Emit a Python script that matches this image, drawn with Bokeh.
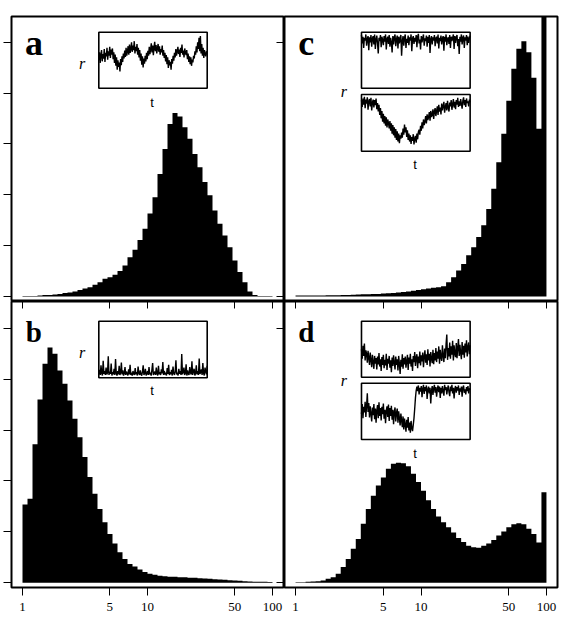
import numpy as np
from bokeh.plotting import figure
from bokeh.layouts import gridplot
from bokeh.models import (Range1d, LogScale, LinearScale, LinearAxis, LogAxis,
                          FixedTicker, Label, BasicTickFormatter)
from bokeh.embed import file_html
from bokeh.resources import INLINE

# ---------------- data ----------------
bin_edges = np.logspace(0, 2, 51)          # 50 logarithmic bins from 1 to 100
x_ticks = [1, 5, 10, 50, 100]
y_ticks_left = [0, 1, 2, 3, 4, 5]
y_ticks_right = [0, 5]

hist_a = [0.01, 0.01, 0.01, 0.02, 0.03, 0.03, 0.04, 0.05, 0.07, 0.08,
          0.10, 0.13, 0.16, 0.18, 0.23, 0.28, 0.35, 0.38, 0.43, 0.50,
          0.61, 0.77, 0.92, 1.11, 1.33, 1.63, 1.95, 2.41, 2.90, 3.39,
          3.61, 3.54, 3.33, 3.10, 2.80, 2.54, 2.25, 1.99, 1.69, 1.43,
          1.20, 0.97, 0.71, 0.48, 0.28, 0.10, 0.03, 0.01, 0.01, 0.01]
hist_b = [1.54, 1.65, 2.72, 3.60, 4.30, 4.62, 4.50, 4.17, 3.91, 3.58,
          3.22, 2.86, 2.47, 2.08, 1.75, 1.45, 1.19, 0.96, 0.77, 0.60,
          0.47, 0.37, 0.32, 0.26, 0.21, 0.18, 0.16, 0.14, 0.13, 0.12,
          0.12, 0.11, 0.11, 0.10, 0.10, 0.09, 0.085, 0.08, 0.07, 0.065,
          0.06, 0.05, 0.045, 0.04, 0.033, 0.026, 0.02, 0.02, 0.02, 0.015]
hist_c = [0.02, 0.02, 0.02, 0.02, 0.02, 0.02, 0.025, 0.025, 0.026, 0.028,
          0.03, 0.035, 0.04, 0.043, 0.046, 0.048, 0.05, 0.057, 0.065, 0.07,
          0.08, 0.09, 0.10, 0.115, 0.13, 0.145, 0.16, 0.17, 0.18, 0.20,
          0.28, 0.38, 0.51, 0.64, 0.81, 0.97, 1.17, 1.40, 1.72, 2.12,
          2.64, 3.20, 3.85, 4.48, 4.87, 5.02, 4.80, 4.30, 3.30, 7.50]
hist_d = [0.013, 0.013, 0.02, 0.026, 0.03, 0.046, 0.08, 0.11, 0.18, 0.31,
          0.47, 0.67, 0.86, 1.16, 1.45, 1.71, 1.91, 2.07, 2.24, 2.34,
          2.36, 2.35, 2.29, 2.14, 1.98, 1.81, 1.62, 1.45, 1.30, 1.19,
          1.09, 0.99, 0.88, 0.80, 0.73, 0.70, 0.69, 0.73, 0.77, 0.84,
          0.93, 1.01, 1.09, 1.15, 1.17, 1.15, 1.06, 0.96, 0.79, 1.78]

# inset time series r(t), in units of the inset height
r_a = [0.50, 0.64, 0.45, 0.59, 0.68, 0.48, 0.61, 0.53, 0.70, 0.47, 0.63, 0.57, 0.72, 0.51, 0.66, 0.58,
       0.74, 0.54, 0.69, 0.60,
       0.71, 0.52, 0.64, 0.45, 0.60, 0.40, 0.55, 0.33, 0.50, 0.38, 0.46, 0.30, 0.52, 0.41, 0.57,
       0.47, 0.62, 0.53, 0.67, 0.56, 0.72, 0.58, 0.66, 0.75, 0.60, 0.78, 0.63, 0.70, 0.82, 0.65,
       0.76, 0.68, 0.84, 0.62, 0.74,
       0.66, 0.79, 0.60, 0.72, 0.55, 0.68, 0.49, 0.62, 0.42, 0.57, 0.37, 0.53, 0.44, 0.58, 0.48,
       0.63, 0.52, 0.67, 0.58, 0.74, 0.61, 0.70, 0.80, 0.64, 0.76, 0.59, 0.73, 0.83, 0.66, 0.77,
       0.62, 0.71, 0.79, 0.65, 0.75, 0.60, 0.70, 0.64, 0.76, 0.58,
       0.68, 0.54, 0.63, 0.48, 0.59, 0.43, 0.55, 0.36, 0.50, 0.41, 0.47, 0.33, 0.52, 0.44, 0.58,
       0.49, 0.63, 0.55,
       0.70, 0.58, 0.66, 0.74, 0.61, 0.69, 0.56, 0.72, 0.63, 0.78, 0.60, 0.67, 0.55, 0.71, 0.64,
       0.59, 0.68, 0.52, 0.62, 0.47, 0.57, 0.43, 0.55, 0.40, 0.51, 0.46, 0.58,
       0.53, 0.66, 0.60, 0.75, 0.64, 0.82, 0.70, 0.90, 0.66, 0.93, 0.62, 0.79, 0.58, 0.72, 0.54,
       0.68, 0.61, 0.57, 0.66, 0.60]
r_b = [0.06, 0.14, 0.05, 0.22, 0.08, 0.04, 0.30, 0.07, 0.12, 0.05,
       0.18, 0.06, 0.09, 0.38, 0.05, 0.11, 0.07, 0.25, 0.04, 0.10,
       0.06, 0.16, 0.05, 0.33, 0.08, 0.04, 0.12, 0.06, 0.21, 0.05,
       0.09, 0.27, 0.06, 0.13, 0.04, 0.08, 0.19, 0.05, 0.11, 0.07,
       0.04, 0.15, 0.06, 0.23, 0.05, 0.09, 0.04, 0.12, 0.07, 0.05,
       0.17, 0.06, 0.10, 0.04, 0.20, 0.08, 0.05, 0.13, 0.06, 0.04,
       0.11, 0.22, 0.05, 0.08, 0.16, 0.04, 0.07, 0.12, 0.05, 0.19,
       0.06, 0.09, 0.04, 0.14, 0.26, 0.05, 0.08, 0.11, 0.05, 0.18,
       0.07, 0.04, 0.21, 0.06, 0.10, 0.05, 0.15, 0.08, 0.28, 0.05,
       0.12, 0.06, 0.09, 0.04, 0.17, 0.07, 0.23, 0.05, 0.10, 0.06,
       0.14, 0.04, 0.20, 0.08, 0.05, 0.11, 0.31, 0.06, 0.09, 0.04,
       0.16, 0.07, 0.12, 0.05, 0.42, 0.06, 0.10, 0.18, 0.05, 0.08,
       0.24, 0.04, 0.13, 0.07, 0.05, 0.19, 0.09, 0.06, 0.29, 0.05,
       0.11, 0.16, 0.04, 0.08, 0.22, 0.06, 0.12, 0.05, 0.34, 0.07,
       0.09, 0.15, 0.05, 0.26, 0.08, 0.04, 0.18, 0.11, 0.06, 0.21]
r_c_top = [0.95, 0.80, 0.92, 0.72, 0.90, 0.85, 0.96, 0.76, 0.88, 0.93,
           0.68, 0.91, 0.82, 0.95, 0.74, 0.89, 0.93, 0.78, 0.96, 0.70,
           0.87, 0.94, 0.80, 0.62, 0.90, 0.84, 0.95, 0.73, 0.92, 0.86,
           0.77, 0.93, 0.83, 0.96, 0.69, 0.88, 0.92, 0.79, 0.95, 0.74,
           0.90, 0.82, 0.64, 0.93, 0.78, 0.91, 0.96, 0.75, 0.87, 0.94,
           0.71, 0.92, 0.80, 0.89, 0.95, 0.58, 0.84, 0.93, 0.76, 0.90,
           0.96, 0.72, 0.88, 0.81, 0.94, 0.77, 0.91, 0.85, 0.96, 0.66,
           0.89, 0.93, 0.79, 0.90, 0.83, 0.95, 0.73, 0.92, 0.97, 0.80,
           0.87, 0.69, 0.93, 0.82, 0.90, 0.96, 0.76, 0.89, 0.84, 0.94,
           0.74, 0.92, 0.81, 0.95, 0.63, 0.88, 0.93, 0.78, 0.91, 0.85,
           0.95, 0.75, 0.89, 0.92, 0.80, 0.96, 0.71, 0.90, 0.84, 0.94,
           0.78, 0.89, 0.93, 0.67, 0.92, 0.83, 0.96, 0.77, 0.88, 0.91,
           0.79, 0.95, 0.72, 0.92, 0.84, 0.90, 0.96, 0.70, 0.93, 0.81,
           0.91, 0.95, 0.75, 0.88, 0.61, 0.92, 0.83, 0.96, 0.78, 0.90,
           0.94, 0.72, 0.91, 0.85, 0.95, 0.77, 0.92, 0.81, 0.89, 0.94]
r_c_bottom = [0.90, 0.78, 0.93, 0.82, 0.96, 0.76, 0.91, 0.84, 0.95, 0.73, 0.88, 0.92,
              0.79, 0.94, 0.72, 0.86, 0.91, 0.77, 0.90, 0.81, 0.93, 0.74, 0.85,
              0.70, 0.82, 0.64, 0.76, 0.58, 0.71, 0.52, 0.66, 0.49, 0.62, 0.45, 0.60,
              0.42, 0.56, 0.50,
              0.40, 0.53, 0.36, 0.49, 0.31, 0.46, 0.28, 0.42, 0.24, 0.39, 0.20, 0.35,
              0.17, 0.31, 0.14, 0.28, 0.22, 0.33,
              0.24, 0.40, 0.29, 0.47, 0.33, 0.42, 0.25, 0.37, 0.20,
              0.31, 0.17, 0.28, 0.13, 0.25, 0.18, 0.30, 0.12, 0.22, 0.27, 0.15, 0.31,
              0.21, 0.34,
              0.38, 0.29, 0.45, 0.36, 0.51, 0.40, 0.56, 0.46, 0.52, 0.62, 0.49, 0.65,
              0.55, 0.60, 0.69, 0.54, 0.71, 0.60, 0.65, 0.74, 0.57, 0.70,
              0.76, 0.62, 0.71, 0.79, 0.64, 0.82, 0.70, 0.77, 0.65, 0.84, 0.72, 0.80,
              0.87, 0.68, 0.78, 0.85, 0.72, 0.89, 0.77, 0.70, 0.86, 0.79, 0.90, 0.73,
              0.83, 0.92, 0.77, 0.87, 0.74, 0.90, 0.82, 0.94, 0.78, 0.88, 0.80, 0.92,
              0.84, 0.75, 0.89, 0.95, 0.81, 0.90, 0.78, 0.93, 0.85, 0.88, 0.79, 0.91,
              0.86]
r_d_top = [0.50, 0.33, 0.56, 0.38, 0.60, 0.30, 0.48, 0.42, 0.26, 0.47,
           0.35, 0.22, 0.44, 0.31, 0.18, 0.40, 0.27, 0.15, 0.38, 0.24,
           0.34, 0.14, 0.37, 0.23, 0.43, 0.19, 0.32, 0.11, 0.36, 0.22,
           0.40, 0.16, 0.31, 0.21, 0.42, 0.13, 0.33, 0.24, 0.38, 0.17,
           0.30, 0.09, 0.35, 0.20, 0.39, 0.26, 0.14, 0.37, 0.22, 0.32,
           0.12, 0.38, 0.24, 0.06, 0.31, 0.19, 0.41, 0.15, 0.34, 0.23,
           0.37, 0.17, 0.29, 0.40, 0.13, 0.35, 0.24, 0.42, 0.19, 0.32,
           0.11, 0.38, 0.27, 0.45, 0.20, 0.35, 0.41, 0.16, 0.37, 0.25,
           0.46, 0.21, 0.39, 0.28, 0.44, 0.18, 0.37, 0.48, 0.26, 0.41,
           0.22, 0.50, 0.30, 0.42, 0.19, 0.45, 0.33, 0.25, 0.49, 0.23,
           0.43, 0.30, 0.52, 0.27, 0.46, 0.33, 0.55, 0.24, 0.49, 0.36,
           0.29, 0.57, 0.38, 0.27, 0.51, 0.34, 0.59, 0.76, 0.31, 0.52,
           0.37, 0.62, 0.33, 0.55, 0.40, 0.65, 0.30, 0.57, 0.42, 0.36,
           0.61, 0.34, 0.53, 0.68, 0.38, 0.58, 0.43, 0.32, 0.63, 0.40,
           0.56, 0.35, 0.60, 0.44, 0.66, 0.37, 0.54, 0.62, 0.41, 0.57]
r_d_bottom = [0.45, 0.63, 0.38, 0.58, 0.48, 0.67, 0.40, 0.60, 0.82, 0.49,
              0.65, 0.39, 0.59, 0.46, 0.32, 0.57, 0.43, 0.63, 0.36, 0.55,
              0.30, 0.52, 0.61, 0.38, 0.66, 0.42, 0.56, 0.34, 0.58, 0.45,
              0.64, 0.37, 0.53, 0.29, 0.51, 0.59, 0.40, 0.62, 0.33, 0.56,
              0.42, 0.60, 0.35, 0.53, 0.27, 0.49, 0.57, 0.32, 0.47, 0.55,
              0.30, 0.50, 0.38, 0.25, 0.46, 0.34,
              0.22, 0.41, 0.18, 0.37, 0.27, 0.14, 0.35, 0.21, 0.40, 0.16,
              0.30, 0.12, 0.33, 0.20, 0.15, 0.26,
              0.38, 0.55, 0.74, 0.87, 0.94, 0.86, 0.96,
              0.80, 0.92, 0.85, 0.95, 0.75, 0.90, 0.97, 0.81, 0.93, 0.86,
              0.96, 0.72, 0.89, 0.94, 0.82, 0.92, 0.64, 0.87, 0.95, 0.79,
              0.91, 0.97, 0.83, 0.93, 0.76, 0.89, 0.96, 0.84, 0.94, 0.74,
              0.92, 0.82, 0.95, 0.86, 0.78, 0.97, 0.88, 0.93, 0.80, 0.90,
              0.96, 0.84, 0.77, 0.94, 0.86, 0.97, 0.82, 0.92, 0.73, 0.90,
              0.95, 0.83, 0.93, 0.87, 0.96, 0.79, 0.91, 0.85, 0.94, 0.76,
              0.92, 0.96, 0.83, 0.89, 0.80, 0.93, 0.86, 0.95, 0.82, 0.91, 0.88]

# ---------------- layout constants ----------------
X_LO, X_HI = 10 ** -0.088, 10 ** 2.088
SERIF = "Liberation Serif"
SANS = "Liberation Sans"


def make_panel(width, height, mbl, mbr, mbt, mbb, y_lo, y_hi):
    p = figure(width=width, height=height, x_range=Range1d(0, 1), y_range=Range1d(0, 1),
               x_axis_type=None, y_axis_type=None, toolbar_location=None,
               output_backend="svg", min_border_left=mbl, min_border_right=mbr,
               min_border_top=mbt, min_border_bottom=mbb)
    p.extra_x_ranges = {"lx": Range1d(X_LO, X_HI)}
    p.extra_x_scales = {"lx": LogScale()}
    p.extra_y_ranges = {"ly": Range1d(y_lo, y_hi)}
    p.extra_y_scales = {"ly": LinearScale()}
    p.outline_line_color = "black"
    p.outline_line_width = 2
    p.background_fill_color = "white"
    p.border_fill_color = "white"
    return p


def add_axis(p, side, ticks, tick_in, tick_out, labels=False):
    if side in ("left", "right"):
        ax = LinearAxis(y_range_name="ly", ticker=FixedTicker(ticks=ticks))
    else:
        ax = LogAxis(x_range_name="lx", ticker=FixedTicker(ticks=ticks),
                     formatter=BasicTickFormatter())
    ax.axis_line_color = None
    ax.major_tick_in = tick_in
    ax.major_tick_out = tick_out
    ax.minor_tick_in = 0
    ax.minor_tick_out = 0
    ax.major_tick_line_color = "black"
    ax.major_tick_line_width = 1
    if labels:
        ax.major_label_text_font = SERIF
        ax.major_label_text_font_size = "13px"
        ax.major_label_text_color = "black"
        ax.major_label_standoff = 7
    else:
        ax.major_label_text_font_size = "0px"
        ax.major_label_text_color = None
        ax.major_label_standoff = 0
    p.add_layout(ax, side)


def add_hist(p, values):
    p.varea_step(x=bin_edges, y1=np.zeros(len(bin_edges)), y2=list(values) + [values[-1]],
                 step_mode="after", x_range_name="lx", y_range_name="ly",
                 fill_color="black")


def add_inset(p, box, series):
    x0, x1, y0, y1 = box
    n = len(series)
    sub = p.subplot(x_source=Range1d(0, n - 1), y_source=Range1d(0, 1),
                    x_target=Range1d(x0, x1), y_target=Range1d(y0, y1))
    sub.quad(left=[0], right=[n - 1], bottom=[0], top=[1],
             fill_color="white", line_color="black", line_width=1.6)
    sub.line(x=list(range(n)), y=series, line_color="black", line_width=1.4)


def add_text(p, x, y, text, font, size, style="normal", align="center", baseline="middle"):
    p.add_layout(Label(x=x, y=y, text=text, text_font=font, text_font_size=size,
                       text_font_style=style, text_align=align, text_baseline=baseline,
                       text_color="black"))


# ---------------- panels ----------------
pa = make_panel(284, 301, 11, 1, 16, 0, -0.098, 5.505)
pc = make_panel(282, 301, 0, 9, 16, 0, -0.098, 5.505)
pb = make_panel(284, 318, 11, 1, 0, 32, -0.092, 5.524)
pd = make_panel(282, 318, 0, 9, 0, 32, -0.092, 5.524)

add_hist(pa, hist_a)
add_hist(pb, hist_b)
add_hist(pc, hist_c)
add_hist(pd, hist_d)

# axes (ticks of the right panels' y axes and top panels' x axes poke into neighbours)
add_axis(pa, "left", y_ticks_left, 0, 8)
add_axis(pa, "right", y_ticks_right, 7, 0)
add_axis(pb, "left", y_ticks_left, 0, 8)
add_axis(pb, "right", y_ticks_right, 7, 0)
add_axis(pb, "above", x_ticks, 7, 0)
add_axis(pb, "below", x_ticks, 0, 8, labels=True)
add_axis(pd, "above", x_ticks, 7, 0)
add_axis(pd, "below", x_ticks, 0, 8, labels=True)

# insets
add_inset(pa, (0.321, 0.7195, 0.7484, 0.9449), r_a)
add_inset(pb, (0.321, 0.7195, 0.7332, 0.9311), r_b)
add_inset(pc, (0.282, 0.680, 0.7484, 0.9449), r_c_top)
add_inset(pc, (0.282, 0.680, 0.5274, 0.7263), r_c_bottom)
add_inset(pd, (0.282, 0.680, 0.7353, 0.9311), r_d_top)
add_inset(pd, (0.282, 0.680, 0.5175, 0.7143), r_d_bottom)

# inset labels
add_text(pa, 0.26, 0.835, "r", SERIF, "16px", style="italic")
add_text(pa, 0.517, 0.699, "t", SANS, "13px")
add_text(pb, 0.26, 0.823, "r", SERIF, "16px", style="italic")
add_text(pb, 0.517, 0.689, "t", SANS, "13px")
add_text(pc, 0.217, 0.738, "r", SERIF, "16px", style="italic")
add_text(pc, 0.478, 0.481, "t", SANS, "13px")
add_text(pd, 0.217, 0.724, "r", SERIF, "16px", style="italic")
add_text(pd, 0.478, 0.4675, "t", SANS, "13px")

# panel letters
for p, lab, x, y, size in [(pa, "a", 0.050, 0.9058, "36px"), (pb, "b", 0.052, 0.892, "29px"),
                           (pc, "c", 0.0505, 0.9058, "36px"), (pd, "d", 0.0505, 0.892, "29px")]:
    add_text(p, x, y, lab, SERIF, size, style="bold", align="left", baseline="middle")

grid = gridplot([[pa, pc], [pb, pd]], toolbar_location=None)

open("out.html", "w").write(file_html(grid, INLINE))
